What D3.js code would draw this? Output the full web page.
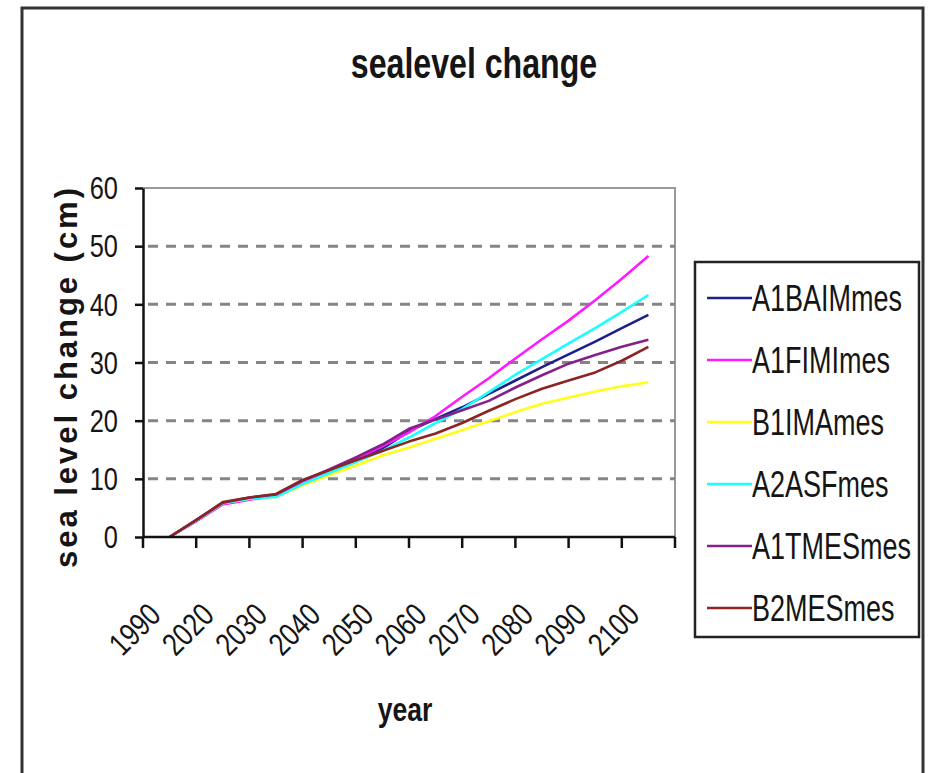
<!DOCTYPE html>
<html>
<head>
<meta charset="utf-8">
<script src="https://cdn.jsdelivr.net/npm/d3@7"></script>
<style>
  html, body { margin: 0; padding: 0; background: #fff; }
  svg { display: block; }
  text { font-family: "Liberation Sans", Arial, sans-serif; fill: #151515; }
</style>
</head>
<body>
<svg id="chart" width="930" height="773"></svg>
<script>
// ---------- data ----------
const categories = ["1990", "2020", "2030", "2040", "2050", "2060", "2070", "2080", "2090", "2100"];
const yTicks = [0, 10, 20, 30, 40, 50, 60];
// sample positions along the category axis (category index, fractional)
const samplePos = [0, 0.5, 1, 1.5, 2, 2.5, 3, 3.5, 4, 4.5, 5, 5.5, 6, 6.5, 7, 7.5, 8, 8.5, 9];
const seriesNames = ["A1BAIMmes", "A1FIMImes", "B1IMAmes", "A2ASFmes", "A1TMESmes", "B2MESmes"];
const seriesColors = ["#1f1f8a", "#ff1aff", "#ffff1a", "#1affff", "#85208a", "#8c2424"];
const A1BAIMmes = [0, 2.9, 5.8, 6.6, 7.1, 9.4, 11.3, 13.3, 15.2, 18.2, 20.3, 22.3, 24.6, 26.9, 29.2, 31.4, 33.6, 35.9, 38.2];
const A1FIMImes = [0, 2.7, 5.6, 6.4, 7.1, 9.5, 11.4, 13.4, 15.6, 18.0, 20.8, 24.1, 27.3, 30.7, 34.0, 37.2, 40.7, 44.4, 48.3];
const B1IMAmes  = [0, 2.8, 5.8, 6.6, 6.9, 8.9, 10.6, 12.3, 14.0, 15.4, 16.9, 18.4, 19.9, 21.5, 22.9, 24.0, 25.0, 25.9, 26.6];
const A2ASFmes  = [0, 2.8, 5.8, 6.6, 6.9, 9.1, 11.0, 12.9, 14.8, 17.1, 19.6, 22.0, 24.9, 27.9, 30.6, 33.3, 35.9, 38.7, 41.6];
const A1TMESmes = [0, 2.9, 5.9, 6.8, 7.3, 9.7, 11.6, 13.7, 15.9, 18.6, 20.2, 21.8, 23.4, 25.7, 27.8, 29.8, 31.3, 32.7, 33.9];
const B2MESmes  = [0, 2.9, 6.0, 6.8, 7.4, 9.8, 11.5, 13.2, 14.8, 16.4, 17.8, 19.6, 21.7, 23.7, 25.5, 26.9, 28.3, 30.3, 32.7];
const seriesValues = [A1BAIMmes, A1FIMImes, B1IMAmes, A2ASFmes, A1TMESmes, B2MESmes];

// ---------- layout ----------
const svg = d3.select("#chart");
const plot = { left: 143, right: 675, top: 188, bottom: 537 };

// narrow text helper: g translate/rotate/scaleX wrapping a text at the origin
function narrowText(parent, x, y, str, o) {
  const g = parent.append("g")
    .attr("transform", `translate(${x},${y}) rotate(${o.rotate || 0}) scale(${o.k || 1},1)`);
  return g.append("text")
    .attr("text-anchor", o.anchor || "start")
    .attr("dy", o.dy || 0)
    .style("font-size", o.size + "px")
    .style("font-weight", o.weight || "normal")
    .text(str);
}

// outer frame
svg.append("rect")
  .attr("x", 22).attr("y", 8).attr("width", 901).attr("height", 800)
  .attr("fill", "#fff").attr("stroke", "#333").attr("stroke-width", 3);

// scales
const xBand = d3.scaleBand().domain(categories).range([plot.left, plot.right]).padding(0);
const xPos = d3.scaleLinear()
  .domain([0, categories.length - 1])
  .range([xBand(categories[0]) + xBand.bandwidth() / 2,
          xBand(categories[categories.length - 1]) + xBand.bandwidth() / 2]);
const y = d3.scaleLinear().domain([0, 60]).range([plot.bottom, plot.top]);

// plot border (top/right gray)
svg.append("path")
  .attr("d", `M${plot.left},${y(60)}H${plot.right}V${plot.bottom}`)
  .attr("fill", "none").attr("stroke", "#9a9a9a").attr("stroke-width", 2);

// gridlines
svg.append("g").selectAll("line")
  .data(yTicks.filter(v => v > 0 && v < 60))
  .join("line")
  .attr("x1", plot.left).attr("x2", plot.right)
  .attr("y1", d => y(d)).attr("y2", d => y(d))
  .attr("stroke", "#858585").attr("stroke-width", 3)
  .attr("stroke-dasharray", "10,8").attr("stroke-dashoffset", -5);

// series lines
const line = d3.line().x((d, i) => xPos(samplePos[i])).y(d => y(d));
svg.append("g").selectAll("path")
  .data(seriesValues)
  .join("path")
  .attr("d", d => line(d))
  .attr("fill", "none")
  .attr("stroke", (d, i) => seriesColors[i])
  .attr("stroke-width", 2.6)
  .attr("stroke-linejoin", "round");

// y axis
const yAxis = svg.append("g")
  .attr("transform", `translate(${plot.left},0)`)
  .call(d3.axisLeft(y).tickValues(yTicks).tickSize(8).tickSizeOuter(0).tickFormat(""));
yAxis.select(".domain").attr("stroke", "#111").attr("stroke-width", 2.5);
yAxis.selectAll(".tick line").attr("stroke", "#111").attr("stroke-width", 2.5);
const yLab = svg.append("g");
yTicks.forEach(v => {
  narrowText(yLab, 118, y(v), String(v), { size: 31, k: 0.82, anchor: "end", dy: "0.36em" });
});

// x axis (category boundaries as ticks)
const xAxisG = svg.append("g").attr("transform", `translate(0,${plot.bottom})`);
xAxisG.append("line")
  .attr("x1", plot.left).attr("x2", plot.right)
  .attr("stroke", "#111").attr("stroke-width", 2.5);
const bounds = categories.map(c => xBand(c)).concat([xBand(categories[categories.length - 1]) + xBand.bandwidth()]);
xAxisG.selectAll("line.tk")
  .data(bounds)
  .join("line").attr("class", "tk")
  .attr("x1", d => d).attr("x2", d => d)
  .attr("y1", 0).attr("y2", 11)
  .attr("stroke", "#111").attr("stroke-width", 2.5);
const xLab = svg.append("g");
categories.forEach(c => {
  narrowText(xLab, xBand(c) + xBand.bandwidth() / 2 - 7, plot.bottom + 80, c,
    { size: 32, k: 0.8, anchor: "end", rotate: -45 });
});

// title
narrowText(svg, 474, 78, "sealevel change", { size: 42, k: 0.765, anchor: "middle", weight: "bold" });

// axis titles
svg.append("text")
  .attr("transform", `translate(77,378) rotate(-90)`)
  .attr("text-anchor", "middle")
  .attr("textLength", 380).attr("lengthAdjust", "spacing")
  .style("font-size", "31px").style("font-weight", "bold")
  .text("sea level change (cm)");
narrowText(svg, 405, 721, "year", { size: 34, k: 0.78, anchor: "middle", weight: "bold" });

// legend
const legend = svg.append("g");
legend.append("rect")
  .attr("x", 695).attr("y", 262).attr("width", 224).attr("height", 375)
  .attr("fill", "#fff").attr("stroke", "#222").attr("stroke-width", 2.5);
const legendRowY = d3.scalePoint().domain(seriesNames).range([298, 608]);
seriesNames.forEach((name, i) => {
  const ry = legendRowY(name);
  legend.append("line")
    .attr("x1", 707).attr("x2", 752).attr("y1", ry).attr("y2", ry)
    .attr("stroke", seriesColors[i]).attr("stroke-width", 2.6);
  narrowText(legend, 752, ry, name, { size: 37, k: 0.73, anchor: "start", dy: "0.36em" });
});
</script>
</body>
</html>
